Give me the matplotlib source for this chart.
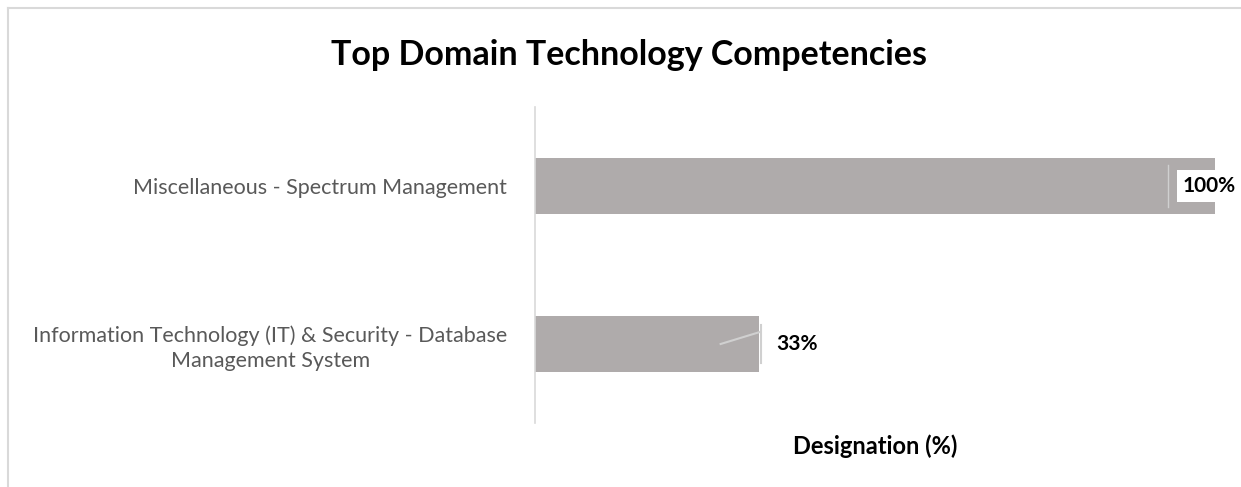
import matplotlib
matplotlib.use('Agg')
import matplotlib.pyplot as plt
from matplotlib.lines import Line2D

categories = ['Information Technology (IT) & Security - Database\nManagement System',
              'Miscellaneous - Spectrum Management']
values = [0.33, 1.00]
value_labels = ['33%', '100%']

plt.rcParams['font.family'] = ['Lato', 'DejaVu Sans']

fig = plt.figure(figsize=(12.41, 4.87), dpi=100)
ax = fig.add_axes([535 / 1241, 1 - 423 / 487, 680 / 1241, 316 / 487])

ypos = list(range(len(categories)))
ax.barh(ypos, values, height=0.354, color='#AFABAB')
ax.set_xlim(0, 1.0)
ax.set_ylim(-0.5, 1.5)
ax.set_yticks(ypos)
ax.set_yticklabels(categories, fontsize=15.5, color='#595959', multialignment='center',
                   linespacing=1.3)
ax.tick_params(axis='y', length=0, pad=20)
ax.set_xticks([])
for s in ['top', 'right', 'bottom']:
    ax.spines[s].set_visible(False)
ax.spines['left'].set_color('#D9D9D9')
ax.spines['left'].set_linewidth(1.2)

ax.set_xlabel('Designation (%)', fontsize=17, fontweight='bold', labelpad=8)

for y, v, lab in zip(ypos, values, value_labels):
    if v >= 0.99:
        ax.text(v - 0.047, y, lab, fontsize=15, fontweight='bold', va='center', ha='left',
                bbox=dict(facecolor='white', edgecolor='none', pad=4), clip_on=False)
        ax.plot([v - 0.069, v - 0.069], [y - 0.13, y + 0.13], color='#D0D0D0', lw=1)
    else:
        ax.text(v + 0.025, y, lab, fontsize=15, fontweight='bold', va='center', ha='left')
        ax.plot([v + 0.003, v + 0.003], [y - 0.12, y + 0.12], color='#D0D0D0', lw=1.5)
        ax.plot([v - 0.057, v], [y, y + 0.075], color='#D0D0D0', lw=1.5)

fig.text(629 / 1241, 1 - 55 / 487, 'Top Domain Technology Competencies',
         fontsize=24.5, fontweight='bold', ha='center', va='center')

# outer chart border (cropped)
fig.add_artist(Line2D([8 / 1241, 1], [1 - 8 / 487, 1 - 8 / 487], transform=fig.transFigure,
                      color='#D9D9D9', lw=1.5))
fig.add_artist(Line2D([8 / 1241, 8 / 1241], [0, 1 - 8 / 487], transform=fig.transFigure,
                      color='#D9D9D9', lw=1.5))

fig.savefig('out.png', dpi=100)
